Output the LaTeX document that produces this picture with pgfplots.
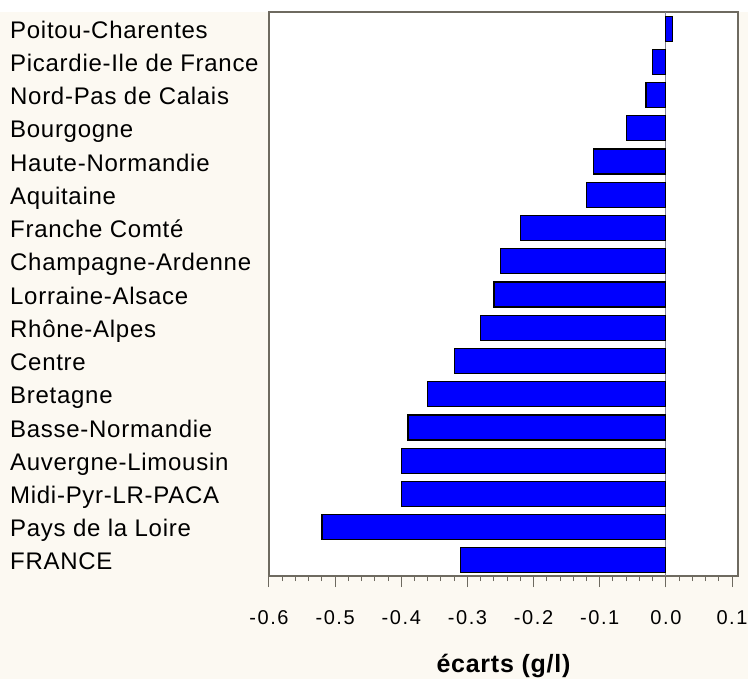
\documentclass[border=0pt]{standalone}
\usepackage{fontspec}
\setmainfont{Liberation Sans}
\usepackage{pgfplots}
\pgfplotsset{compat=1.18}
\definecolor{bgcream}{RGB}{252,249,242}
\definecolor{boxgray}{RGB}{110,106,96}
\definecolor{zerogray}{RGB}{130,130,145}
\definecolor{barblue}{RGB}{0,0,255}
\begin{document}
\begin{tikzpicture}
\useasboundingbox (-269bp,-103bp) rectangle (479bp,576bp);
\fill[bgcream] (-269bp,-103bp) rectangle (479bp,564bp);
\fill[white] (-269bp,564bp) rectangle (479bp,576bp);
\begin{axis}[
  at={(0,0)}, anchor=south west,
  scale only axis, width=469bp, height=564bp,
  xbar, bar width=25bp,
  xmin=-0.6, xmax=0.109, ymin=-0.47, ymax=16.5,
  axis background/.style={fill=white},
  axis line style={boxgray, line width=1.2bp},
  xtick={-0.6,-0.5,-0.4,-0.3,-0.2,-0.1,0,0.1},
  xticklabels={-0.6,-0.5,-0.4,-0.3,-0.2,-0.1,0.0,0.1},
  minor x tick num=4,
  xtick pos=bottom, tick align=outside,
  major tick length=11bp, minor tick length=5bp,
  every tick/.style={boxgray, line width=1bp},
  ytick={0,...,16},
  yticklabels={FRANCE,Pays de la Loire,Midi-Pyr-LR-PACA,Auvergne-Limousin,Basse-Normandie,Bretagne,Centre,Rhône-Alpes,Lorraine-Alsace,Champagne-Ardenne,Franche Comté,Aquitaine,Haute-Normandie,Bourgogne,Nord-Pas de Calais,Picardie-Ile de France,Poitou-Charentes},
  ytick style={draw=none},
  yticklabel style={anchor=base west, inner sep=0pt, xshift=-248bp, yshift=-9.6bp, font=\fontsize{24bp}{28bp}\selectfont\addfontfeature{LetterSpace=3}},
  xticklabel style={anchor=center, inner sep=0pt, yshift=-30.5bp, font=\fontsize{20bp}{24bp}\selectfont\addfontfeature{LetterSpace=8}},
  xlabel={écarts (g/l)},
  xlabel style={at={(axis description cs:0.5,0)}, anchor=base, inner sep=0pt, yshift=-96bp, font=\fontsize{25bp}{29bp}\selectfont\bfseries\addfontfeature{LetterSpace=3}},
  extra x ticks={0}, extra x tick labels={},
  extra x tick style={grid=major, major grid style={zerogray, line width=1bp}},
]
\addplot[fill=barblue, draw=black, line width=1.2bp] coordinates {
(-0.31,0) (-0.52,1) (-0.40,2) (-0.40,3) (-0.39,4) (-0.36,5) (-0.32,6) (-0.28,7) (-0.26,8) (-0.25,9) (-0.22,10) (-0.12,11) (-0.11,12) (-0.06,13) (-0.03,14) (-0.02,15) (0.01,16)
};
\end{axis}
\end{tikzpicture}
\end{document}
